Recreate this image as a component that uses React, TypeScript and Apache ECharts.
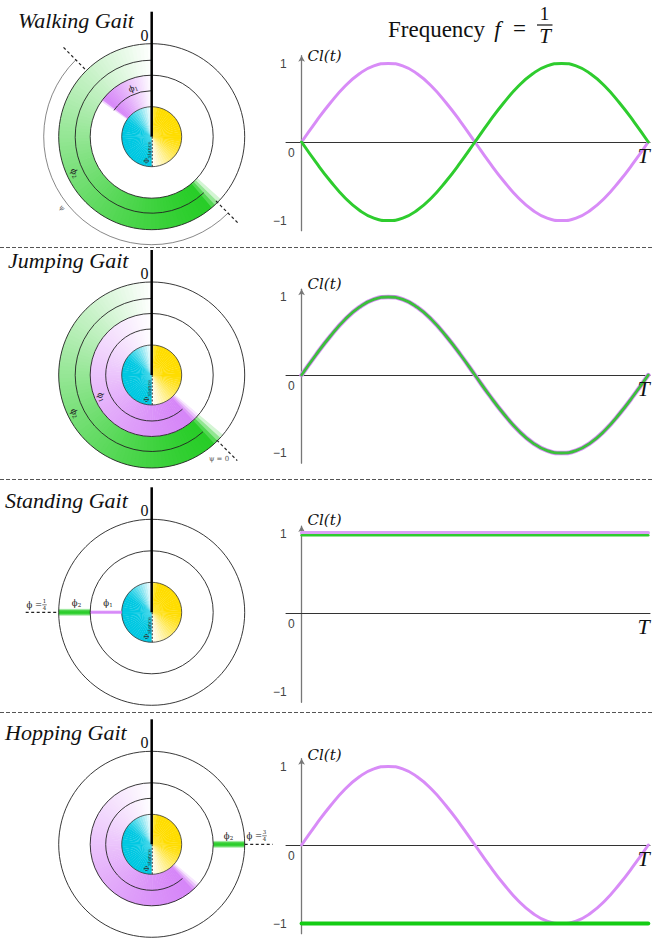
import React, { useEffect, useRef } from 'react';
import * as echarts from 'echarts';

// ---------- DATA ----------
const tValues = [0, 0.0417, 0.0833, 0.125, 0.1667, 0.2083, 0.25, 0.2917, 0.3333, 0.375, 0.4167, 0.4583, 0.5, 0.5417, 0.5833, 0.625, 0.6667, 0.7083, 0.75, 0.7917, 0.8333, 0.875, 0.9167, 0.9583, 1];
const sineUp = [0, 0.26, 0.5, 0.71, 0.87, 0.97, 1, 0.97, 0.87, 0.71, 0.5, 0.26, 0, -0.26, -0.5, -0.71, -0.87, -0.97, -1, -0.97, -0.87, -0.71, -0.5, -0.26, 0];
const sineDown = [0, -0.26, -0.5, -0.71, -0.87, -0.97, -1, -0.97, -0.87, -0.71, -0.5, -0.26, 0, 0.26, 0.5, 0.71, 0.87, 0.97, 1, 0.97, 0.87, 0.71, 0.5, 0.26, 0];
const flatT = [0, 1];
const standPurple = [1.015, 1.015];
const standGreen = [0.985, 0.985];
const hopGreen = [-1, -1];

const gaitTitles = ['Walking Gait', 'Jumping Gait', 'Standing Gait', 'Hopping Gait'];
const yLabelValues = [-1, 0, 1];
const periodLabel = 'T';

// phases as fraction of a cycle, counter-clockwise from "0"
const walkPhi1 = 0.153;
const walkPhi2 = 0.633;
const walkPsi = [0.124, 0.625];
const jumpPhi1 = 0.639;
const jumpPhi2 = 0.639;
const hopPhi1 = 0.639;
const standPhi = 0.25;
const hopPhi2 = 0.75;

// ---------- STYLE / LAYOUT ----------
const PURPLE = '#d88cf7';
const GREEN = '#2ecc2e';
const GREEN_RGB = [40, 205, 40];
const PURPLE_RGB = [214, 134, 248];
const CYAN_RGB = [0, 200, 226];
const YELLOW_RGB = [255, 221, 0];
const CX = 151.7;
const ROW_CY = [136.7, 375, 612.3, 844.3];
const R_DISC = 30, R_IN = 61.5, R_OUT = 93, R_A1 = 46, R_A2 = 76.5, R_PSI = 108;
const ROW_ZERO = [142, 375, 613, 845];
const ROW_K = [78.5, 78, 79, 78.5];
const NAME_GAP = [0, 5, 6, 4];
const TITLE_X = [18, 8, 5, 5];
const TITLE_BASE = [28, 268.3, 508, 740];
const SERIF = 'Liberation Serif, Times New Roman, serif';
const DSERIF = 'DejaVu Serif, serif';
const X_MIN = -0.045, X_MAX = 1.005, GRID_LEFT = 286, GRID_W = 364;
const Y_OFFSET = -(0 - X_MIN) * GRID_W / (X_MAX - X_MIN);

const DEG = Math.PI / 180;
const za = (th: number) => (th - 90) * DEG;
const fracToTh = (f: number) => 360 - f * 360;
const pt = (cy: number, th: number, r: number) => [CX + r * Math.sin(th * DEG), cy - r * Math.cos(th * DEG)];

function mix(rgb: number[], w: number) {
  const c = rgb.map((v) => Math.round(v + (255 - v) * Math.max(0, Math.min(1, w))));
  return `rgb(${c[0]},${c[1]},${c[2]})`;
}

function band(els: any[], cy: number, r0: number, r1: number, frac: number, rgb: number[], fuzz: number, p: number, n: number) {
  const thS = fracToTh(frac);
  const step = (360 - thS) / n;
  for (let i = 0; i < n; i++) {
    const a = thS + i * step;
    const b = Math.min(a + step + 0.7, 360);
    const m = a + step / 2;
    let w;
    if (m < thS + fuzz) w = 0.95 * (1 - (m - thS) / fuzz);
    else w = Math.pow((m - thS - fuzz) / (360 - thS - fuzz), p);
    els.push({ type: 'sector', silent: true, z: 1, shape: { cx: CX, cy, r0, r: r1, startAngle: za(a), endAngle: za(b), clockwise: true }, style: { fill: mix(rgb, w) } });
  }
}

function disc(els: any[], cy: number) {
  const n = 72;
  for (let i = 0; i < n; i++) {
    const a = i * 5;
    const b = Math.min(a + 5.7, 360);
    const m = a + 2.5;
    let fill;
    if (m < 180) {
      let w = 0;
      if (m < 14) w = 0.35 * (1 - m / 14);
      else if (m > 90) w = Math.pow((m - 90) / 90, 1.3);
      fill = mix(YELLOW_RGB, w);
    } else {
      let w = 0;
      if (m > 300) w = Math.pow((m - 300) / 60, 1.2);
      fill = mix(CYAN_RGB, w);
    }
    els.push({ type: 'sector', silent: true, z: 2, shape: { cx: CX, cy, r0: 0, r: R_DISC, startAngle: za(a), endAngle: za(b), clockwise: true }, style: { fill } });
  }
  els.push({ type: 'circle', silent: true, z: 3, shape: { cx: CX, cy, r: R_DISC }, style: { fill: 'none', stroke: '#333', lineWidth: 0.8 } });
}

function circ(els: any[], cy: number, r: number) {
  els.push({ type: 'circle', silent: true, z: 5, shape: { cx: CX, cy, r }, style: { fill: 'none', stroke: '#222', lineWidth: 0.9 } });
}

function arc(els: any[], cy: number, r: number, th1: number, th2: number, stroke = '#222', lw = 0.9) {
  els.push({ type: 'arc', silent: true, z: 5, shape: { cx: CX, cy, r, startAngle: za(th1), endAngle: za(th2), clockwise: true }, style: { fill: 'none', stroke, lineWidth: lw } });
}

function seg(els: any[], x1: number, y1: number, x2: number, y2: number, stroke: string, lw: number, dash?: number[]) {
  els.push({ type: 'line', silent: true, z: 6, shape: { x1, y1, x2, y2 }, style: { stroke, lineWidth: lw, lineDash: dash || null } });
}

function radialDash(els: any[], cy: number, th: number, r1: number, r2: number) {
  const [x1, y1] = pt(cy, th, r1);
  const [x2, y2] = pt(cy, th, r2);
  seg(els, x1, y1, x2, y2, '#222', 1.2, [3, 2.5]);
}

function txt(els: any[], x: number, y: number, text: string, fs: number, o: any = {}) {
  els.push({
    type: 'text', silent: true, z: 20, x, y, rotation: o.rot || 0,
    style: {
      text, fontSize: fs, fontFamily: o.ff || SERIF, fontStyle: o.it ? 'italic' : 'normal',
      fill: o.fill || '#111', align: o.align || 'center', verticalAlign: 'middle', rich: o.rich,
    },
  });
}

function phiLabel(els: any[], x: number, y: number, sub: string, rot = 0) {
  txt(els, x, y, `{a|ϕ}{b|${sub}}`, 9, {
    rot,
    rich: { a: { fontSize: 8.5, fontFamily: DSERIF, fill: '#222' }, b: { fontSize: 5.5, fontFamily: DSERIF, fill: '#222', padding: [4, 0, 0, 0] } },
  });
}

function glowBar(els: any[], x1: number, x2: number, cy: number, h: number, rgb: number[]) {
  const c = (a: number) => `rgba(${rgb[0]},${rgb[1]},${rgb[2]},${a})`;
  els.push({
    type: 'rect', silent: true, z: 4, shape: { x: x1, y: cy - h / 2, width: x2 - x1, height: h },
    style: { fill: new echarts.graphic.LinearGradient(0, 0, 0, 1, [
      { offset: 0, color: c(0) }, { offset: 0.3, color: c(0.9) }, { offset: 0.5, color: c(1) }, { offset: 0.7, color: c(0.9) }, { offset: 1, color: c(0) },
    ]) },
  });
}

function fracLabel(els: any[], x: number, cy: number, num: string, den: string) {
  txt(els, x, cy, 'ϕ =', 8.5, { align: 'left', ff: DSERIF, fill: '#222' });
  const fx = x + 18;
  txt(els, fx, cy - 3.3, num, 5.5, { ff: DSERIF, fill: '#222' });
  seg(els, fx - 2.2, cy + 0.3, fx + 2.2, cy + 0.3, '#222', 0.6);
  txt(els, fx, cy + 3.8, den, 5.5, { ff: DSERIF, fill: '#222' });
}

function common(els: any[], row: number) {
  const cy = ROW_CY[row];
  disc(els, cy);
  circ(els, cy, R_IN);
  circ(els, cy, R_OUT);
  seg(els, CX, cy, CX, cy - 125, '#000', 2.5);
  seg(els, CX + 0.5, cy, CX + 0.5, cy + R_DISC, '#222', 1, [2, 1.5]);
  txt(els, CX - 4.5, cy + 16, '{a|Φ}{b|stance}', 7, {
    rot: Math.PI / 2,
    rich: { a: { fontSize: 7, fontFamily: DSERIF, fill: '#333' }, b: { fontSize: 5, fontFamily: DSERIF, fill: '#333', padding: [3, 0, 0, 0] } },
  });
  txt(els, 144.5, cy - 101.5, '0', 16);
  txt(els, TITLE_X[row], TITLE_BASE[row] - 7.5, gaitTitles[row], 22, { it: true, align: 'left' });
}

function buildGraphic() {
  const els: any[] = [];
  // separators
  [247.5, 479.5, 712.5].forEach((y) => seg(els, 0, y, 652, y, '#555', 1, [4, 2]));

  // Walking
  {
    const cy = ROW_CY[0];
    band(els, cy, R_IN, R_OUT, walkPhi2, GREEN_RGB, 8, 1.3, 90);
    band(els, cy, R_DISC, R_IN, walkPhi1, PURPLE_RGB, 3, 1.1, 30);
    common(els, 0);
    arc(els, cy, R_A2, fracToTh(walkPhi2) + 5, 360);
    arc(els, cy, R_A1, fracToTh(walkPhi1), 360);
    arc(els, cy, R_PSI, fracToTh(walkPsi[1]), fracToTh(walkPsi[0]), '#555', 0.7);
    radialDash(els, cy, fracToTh(walkPsi[0]), 95, 126);
    radialDash(els, cy, fracToTh(walkPsi[1]), 91, 124);
    phiLabel(els, 133, 88, '1', 21 * DEG);
    phiLabel(els, 75, 173, '2', -65 * DEG);
    txt(els, 62, 208, 'ψ', 7, { rot: -51 * DEG, fill: '#666', ff: DSERIF });
  }
  // Jumping
  {
    const cy = ROW_CY[1];
    band(els, cy, R_IN, R_OUT, jumpPhi2, GREEN_RGB, 8, 1.3, 90);
    band(els, cy, R_DISC, R_IN, jumpPhi1, PURPLE_RGB, 8, 1.3, 90);
    common(els, 1);
    arc(els, cy, R_A2, fracToTh(jumpPhi2) + 8, 360);
    arc(els, cy, R_A1, fracToTh(jumpPhi1) + 8, 360);
    radialDash(els, cy, 135, 92, 121);
    txt(els, 219, 459, 'ψ = 0', 7, { fill: '#555', ff: DSERIF });
    phiLabel(els, 101.7, 396.7, '1', -66 * DEG);
    phiLabel(els, 75, 413, '2', -64 * DEG);
  }
  // Standing
  {
    const cy = ROW_CY[2];
    common(els, 2);
    const thS = fracToTh(standPhi);
    const [xo] = pt(cy, thS, R_OUT);
    const [xi] = pt(cy, thS, R_IN);
    const [xd] = pt(cy, thS, R_DISC);
    const [xe] = pt(cy, thS, 126);
    glowBar(els, xo, xi, cy, 8, GREEN_RGB);
    glowBar(els, xi, xd, cy, 4.5, PURPLE_RGB);
    seg(els, xe, cy, xo, cy, '#222', 1.2, [3, 2.5]);
    phiLabel(els, 76.5, 602.5, '2');
    phiLabel(els, 108, 602.5, '1');
    fracLabel(els, 26.5, 604.5, '1', '4');
  }
  // Hopping
  {
    const cy = ROW_CY[3];
    band(els, cy, R_DISC, R_IN, hopPhi1, PURPLE_RGB, 8, 1.3, 90);
    common(els, 3);
    arc(els, cy, R_A1, fracToTh(hopPhi1) + 8, 360);
    const thS = fracToTh(hopPhi2);
    const [xi] = pt(cy, thS, R_IN);
    const [xo] = pt(cy, thS, R_OUT);
    const [xe] = pt(cy, thS, 121);
    glowBar(els, xi, xo, cy, 8, GREEN_RGB);
    seg(els, xo, cy, xe, cy, '#222', 1.2, [3, 2.5]);
    phiLabel(els, 228.5, 835.5, '2');
    fracLabel(els, 246.5, 835.5, '3', '4');
  }

  // period label T at the end of each time axis
  ROW_ZERO.forEach((z) => txt(els, 643.5, z + 13, periodLabel, 22, { it: true }));

  // Frequency f = 1/T
  txt(els, 388, 29.2, 'Frequency', 23, { align: 'left' });
  txt(els, 497.5, 29.2, 'f', 23, { it: true });
  txt(els, 519.5, 28.5, '=', 23);
  txt(els, 544.5, 13.5, '1', 19);
  seg(els, 537, 25, 552.5, 25, '#111', 1.2);
  txt(els, 545, 35.5, 'T', 21, { it: true });
  return els;
}

function pairs(xs: number[], ys: number[]) {
  return xs.map((x, i) => [x, ys[i]]);
}

function lineSeries(row: number, data: number[][], color: string, width: number, smooth = true) {
  return {
    type: 'line', xAxisIndex: row, yAxisIndex: row, data, smooth, showSymbol: false, silent: true,
    lineStyle: { color, width, cap: 'round' }, itemStyle: { color },
  };
}

function buildOption() {
  const grids = ROW_ZERO.map((z, i) => ({ left: GRID_LEFT, width: GRID_W, top: z - 1.1 * ROW_K[i], height: 2.23 * ROW_K[i] }));
  const xAxes = ROW_ZERO.map((_, i) => ({
    gridIndex: i, type: 'value', min: X_MIN, max: X_MAX,
    axisLine: { onZero: true, lineStyle: { color: '#333', width: 1 } },
    axisTick: { show: false }, splitLine: { show: false }, axisLabel: { show: false },
  }));
  const yAxes = ROW_ZERO.map((_, i) => ({
    gridIndex: i, type: 'value', min: -1.13, max: 1.1, position: 'left', offset: Y_OFFSET,
    axisLine: { show: true, onZero: false, lineStyle: { color: '#777', width: 1.3 }, symbol: ['none', 'arrow'], symbolSize: [5, 6] },
    axisTick: { show: false },
    axisLabel: {
      customValues: yLabelValues, margin: 7,
      formatter: (v: number) => (v < 0 ? '{n|−1}' : v > 0 ? '{n|1}' : '{z|0}'),
      rich: {
        n: { color: '#444', fontSize: 12, fontFamily: 'Liberation Sans, sans-serif', padding: [0, 8, 0, 0] },
        z: { color: '#444', fontSize: 12, fontFamily: 'Liberation Sans, sans-serif', padding: [22, 0, 0, 0] },
      },
    },
    splitLine: { show: false },
    name: 'Cl(t)', nameLocation: 'end', nameGap: NAME_GAP[i],
    nameTextStyle: { fontFamily: DSERIF, fontStyle: 'italic', fontSize: 15, color: '#111', align: 'left', verticalAlign: 'middle', padding: [0, 0, 0, 6] },
  }));
  const series = [
    lineSeries(0, pairs(tValues, sineUp), PURPLE, 3),
    lineSeries(0, pairs(tValues, sineDown), GREEN, 3),
    lineSeries(1, pairs(tValues, sineUp), PURPLE, 4.5),
    lineSeries(1, pairs(tValues, sineUp), '#3cbf3c', 2.8),
    lineSeries(2, pairs(flatT, standPurple), '#dba0f5', 3.5, false),
    lineSeries(2, pairs(flatT, standGreen), GREEN, 2.5, false),
    lineSeries(3, pairs(tValues, sineUp), PURPLE, 3),
    lineSeries(3, pairs(flatT, hopGreen), '#14cc14', 4, false),
  ];
  return {
    animation: false,
    backgroundColor: '#fff',
    grid: grids,
    xAxis: xAxes,
    yAxis: yAxes,
    series,
    graphic: { elements: buildGraphic() },
  };
}

export default function App() {
  const ref = useRef<HTMLDivElement>(null);
  useEffect(() => {
    document.body.style.margin = '0';
    const chart = echarts.init(ref.current as HTMLDivElement, null, { renderer: 'svg' });
    chart.setOption(buildOption() as any);
    return () => chart.dispose();
  }, []);
  return <div ref={ref} style={{ position: 'absolute', left: 0, top: 0, width: 652, height: 940, background: '#fff' }} />;
}
